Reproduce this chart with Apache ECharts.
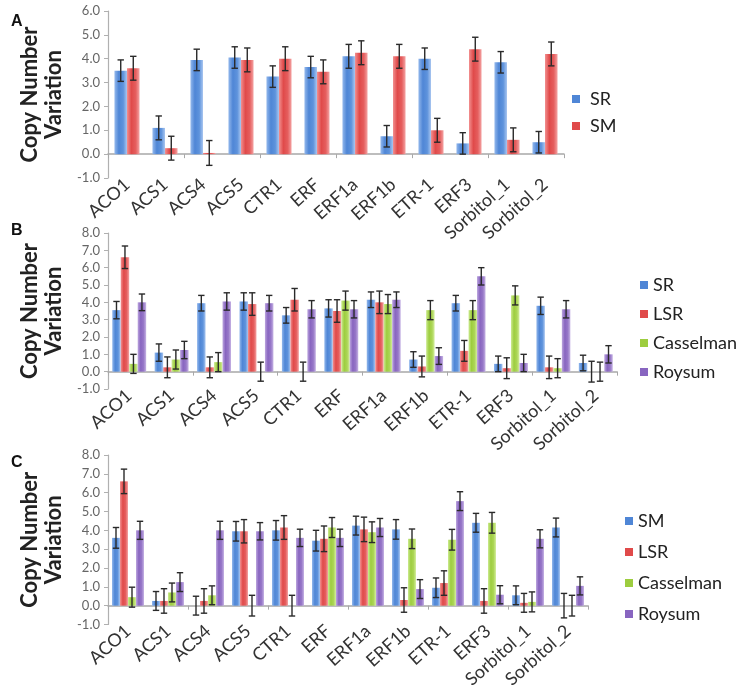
<!DOCTYPE html>
<html>
<head>
<meta charset="utf-8">
<script src="https://cdn.jsdelivr.net/npm/echarts@6/dist/echarts.min.js"></script>
<style>html,body{margin:0;padding:0;background:#fff}#c{width:743px;height:691px}</style>
</head>
<body>
<div id="c"></div>
<script>
const categories = ['ACO1','ACS1','ACS4','ACS5','CTR1','ERF','ERF1a','ERF1b','ETR-1','ERF3','Sorbitol_1','Sorbitol_2'];

// Panel A
const aSR    = [3.5, 1.1, 3.95, 4.05, 3.25, 3.65, 4.1, 0.75, 4.0, 0.45, 3.85, 0.5];
const aSRErr = [0.45, 0.5, 0.45, 0.45, 0.45, 0.45, 0.5, 0.45, 0.45, 0.45, 0.45, 0.45];
const aSM    = [3.6, 0.25, 0.05, 3.95, 4.0, 3.45, 4.25, 4.1, 1.0, 4.4, 0.6, 4.2];
const aSMErr = [0.5, 0.5, 0.52, 0.5, 0.5, 0.5, 0.5, 0.5, 0.5, 0.5, 0.5, 0.5];

// Panel B
const bSR     = [3.55, 1.1, 3.95, 4.05, 3.25, 3.65, 4.15, 0.7, 3.95, 0.45, 3.8, 0.5];
const bSRErr  = [0.5, 0.5, 0.45, 0.5, 0.45, 0.5, 0.45, 0.45, 0.45, 0.45, 0.5, 0.45];
const bLSR    = [6.6, 0.25, 0.25, 3.9, 4.15, 3.5, 4.0, 0.3, 1.2, 0.2, 0.25, 0];
const bLSRErr = [0.65, 0.6, 0.6, 0.65, 0.65, 0.65, 0.65, 0.6, 0.6, 0.6, 0.65, 0.6];
const bCas    = [0.45, 0.7, 0.55, 0, 0, 4.1, 3.9, 3.55, 3.55, 4.4, 0.2, 0];
const bCasErr = [0.55, 0.55, 0.55, 0.55, 0.55, 0.55, 0.55, 0.55, 0.55, 0.55, 0.55, 0.55];
const bRoy    = [4.0, 1.25, 4.05, 3.95, 3.6, 3.6, 4.15, 0.9, 5.5, 0.5, 3.6, 1.0];
const bRoyErr = [0.48, 0.5, 0.5, 0.45, 0.5, 0.5, 0.45, 0.48, 0.5, 0.5, 0.5, 0.5];

// Panel C
const cSM     = [3.6, 0.25, 0.0, 3.95, 4.0, 3.45, 4.25, 4.05, 0.95, 4.4, 0.55, 4.15];
const cSMErr  = [0.55, 0.5, 0.5, 0.52, 0.52, 0.55, 0.5, 0.52, 0.52, 0.5, 0.5, 0.5];
const cLSR    = [6.6, 0.25, 0.25, 3.95, 4.15, 3.55, 4.05, 0.3, 1.2, 0.25, 0.15, 0];
const cLSRErr = [0.65, 0.65, 0.65, 0.62, 0.63, 0.68, 0.65, 0.65, 0.65, 0.65, 0.5, 0.65];
const cCas    = [0.45, 0.7, 0.55, 0, 0, 4.15, 3.9, 3.55, 3.5, 4.4, 0.2, 0];
const cCasErr = [0.53, 0.5, 0.5, 0.55, 0.55, 0.53, 0.55, 0.52, 0.55, 0.55, 0.53, 0.55];
const cRoy    = [4.0, 1.25, 4.0, 3.95, 3.6, 3.6, 4.15, 0.88, 5.55, 0.58, 3.55, 1.05];
const cRoyErr = [0.48, 0.5, 0.48, 0.46, 0.46, 0.46, 0.48, 0.5, 0.5, 0.48, 0.48, 0.48];

const yTicksLabel = v => v.toFixed(1);

const FONT = 'Lato, "Open Sans", sans-serif';
const COLORS = {
  blue:   ['#93b8ec', '#4f86d6', '#5e93dc', '#a9c6f0', '#4f86d6'],
  red:    ['#f29090', '#e04a4a', '#e55e5e', '#f4a3a3', '#e04a4a'],
  green:  ['#cdeb92', '#9dcd3f', '#acd656', '#d4ee9f', '#9dcd3f'],
  purple: ['#bca6de', '#8865c0', '#9778c8', '#c6b3e4', '#8865c0']
};
function grad(c){
  return new echarts.graphic.LinearGradient(0,0,1,0,[
    {offset:0,color:c[0]},{offset:0.35,color:c[1]},{offset:0.7,color:c[2]},{offset:1,color:c[3]}
  ]);
}

const panels = [
  {label:'A', labelTop:14, grid:{left:108, top:11, width:456, height:167}, ymax:6, gap:0.34,
   series:[['SR',aSR,aSRErr,'blue'],['SM',aSM,aSMErr,'red']],
   legend:{left:567, top:85, itemGap:9, pad:5}},
  {label:'B', labelTop:223, grid:{left:108, top:233, width:509, height:156}, ymax:8, gap:0.2,
   series:[['SR',bSR,bSRErr,'blue'],['LSR',bLSR,bLSRErr,'red'],['Casselman',bCas,bCasErr,'green'],['Roysum',bRoy,bRoyErr,'purple']],
   legend:{left:635, top:271, itemGap:11, pad:0}},
  {label:'C', labelTop:455, grid:{left:108, top:455, width:480, height:170}, ymax:8, gap:0.2,
   series:[['SM',cSM,cSMErr,'blue'],['LSR',cLSR,cLSRErr,'red'],['Casselman',cCas,cCasErr,'green'],['Roysum',cRoy,cRoyErr,'purple']],
   legend:{left:620, top:507, itemGap:13, pad:0}}
];

const option = {
  animation:false,
  textStyle:{fontFamily:FONT},
  grid:[], xAxis:[], yAxis:[], series:[], legend:[], graphic:[]
};

panels.forEach((p, i) => {
  option.grid.push(Object.assign({containLabel:false}, p.grid));
  option.xAxis.push({
    gridIndex:i, type:'category', data:categories, position:'bottom',
    axisLine:{show:false, onZero:false}, axisTick:{show:false},
    axisLabel:{rotate:42, interval:0, fontSize:18, color:'#333', margin:4, fontFamily:FONT}
  });
  option.xAxis.push({
    gridIndex:i, type:'category', data:categories, position:'bottom',
    axisLine:{show:true, onZero:true, lineStyle:{color:'#a8a8a8', width:1.5}},
    axisTick:{show:true, length:4, lineStyle:{color:'#a8a8a8'}},
    axisLabel:{show:false}
  });
  option.yAxis.push({
    gridIndex:i, type:'value', min:-1, max:p.ymax, interval:1,
    axisLine:{show:true, lineStyle:{color:'#b0b0b0', width:1.2}},
    axisTick:{show:true, length:4, lineStyle:{color:'#b0b0b0'}},
    splitLine:{show:false},
    axisLabel:{formatter:yTicksLabel, fontSize:13, color:'#666', margin:8, fontFamily:FONT},
    name:'Copy Number\nVariation', nameLocation:'middle', nameGap:29,
    nameTextStyle:{fontSize:22, fontWeight:'bold', color:'#222', lineHeight:24, fontFamily:FONT}
  });
  const n = p.series.length;
  p.series.forEach((s, k) => {
    option.series.push({
      type:'bar', name:s[0], xAxisIndex:2*i, yAxisIndex:i, data:s[1],
      barGap:'0%', barCategoryGap:(p.gap*100)+'%',
      itemStyle:{color:grad(COLORS[s[3]])}
    });
  });
  p.series.forEach((s, k) => {
    option.series.push({
      type:'custom', name:s[0]+'_err', xAxisIndex:2*i, yAxisIndex:i, z:5,
      data:s[1].map((v, j) => [j, v, s[2][j]]),
      encode:{x:0, y:1},
      renderItem:(params, api) => {
        const x = api.value(0), v = api.value(1), e = api.value(2);
        const band = api.size([1,0])[0];
        const groupW = band*(1-p.gap);
        const bw = groupW/n;
        const cx = api.coord([x, v])[0] - groupW/2 + bw*(k+0.5);
        const yt = api.coord([x, v+e])[1];
        const yb = api.coord([x, v-e])[1];
        const cap = 3.2;
        const st = {stroke:'#2a2a2a', lineWidth:1.4};
        return {type:'group', children:[
          {type:'line', shape:{x1:cx, y1:yt, x2:cx, y2:yb}, style:st},
          {type:'line', shape:{x1:cx-cap, y1:yt, x2:cx+cap, y2:yt}, style:st},
          {type:'line', shape:{x1:cx-cap, y1:yb, x2:cx+cap, y2:yb}, style:st}
        ]};
      }
    });
  });
  option.legend.push({
    left:p.legend.left, top:p.legend.top, orient:'vertical', itemGap:p.legend.itemGap,
    icon:'rect', itemWidth:8, itemHeight:8,
    textStyle:{fontSize:18, color:'#222', fontFamily:FONT, padding:[0,0,0,p.legend.pad]},
    data:p.series.map(s => ({name:s[0], itemStyle:{color:COLORS[s[3]][4]}}))
  });
  option.graphic.push({
    type:'text', left:11, top:p.labelTop,
    style:{text:p.label, fontSize:16, fontWeight:'bold', fill:'#111', fontFamily:'Arial, "Liberation Sans", sans-serif'}
  });
});

const chart = echarts.init(document.getElementById('c'), null, {renderer:'canvas'});
chart.setOption(option);
</script>
</body>
</html>
